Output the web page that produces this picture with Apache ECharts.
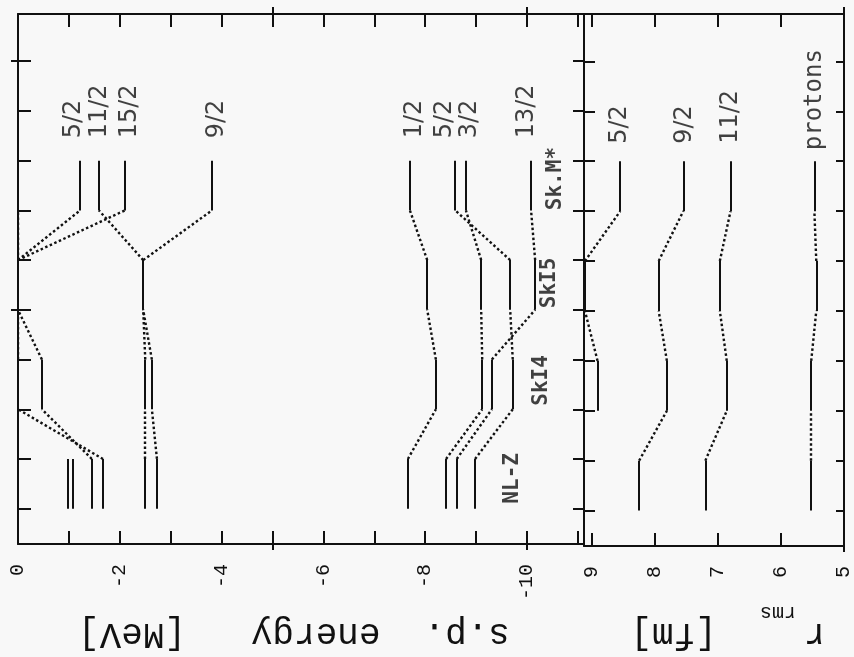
<!DOCTYPE html>
<html>
<head>
<meta charset="utf-8">
<script src="https://cdn.jsdelivr.net/npm/echarts@6/dist/echarts.min.js"></script>
<style>
  html, body { margin: 0; padding: 0; background: #f8f8f8; }
  #chart { width: 854px; height: 657px; }
</style>
</head>
<body>
<div id="chart"></div>
<script>
// model order along the (rotated) horizontal axis: NL-Z, SkI4, SkI5, Sk.M*
const models = ['NL-Z', 'SkI4', 'SkI5', 'Sk.M*'];

// neutron s.p. energies [MeV], one value per model (null = not drawn)
const e5_2a = [-1.45, -0.47, 0, -1.22];
const e11_2 = [-2.50, -2.50, -2.46, -1.59];
const e15_2 = [-1.67, 0, 0, -2.10];
const e9_2 = [-2.73, -2.63, -2.46, -3.81];
const eExtraA = [-0.98, null, 0, 0];
const eExtraB = [-1.08, null, null, null];
const e1_2 = [-7.66, -8.21, -8.04, -7.70];
const e5_2b = [-8.98, -9.72, -9.67, -8.59];
const e3_2 = [-8.41, -9.12, -9.10, -8.80];
const e13_2 = [-8.62, -9.31, -10.16, -10.08];

// rms radii [fm]
const r5_2 = [null, 8.91, 9.11, 8.55];
const r9_2 = [8.25, 7.81, 7.94, 7.55];
const r11_2 = [7.20, 6.86, 6.97, 6.80];
const rProtons = [5.52, 5.52, 5.44, 5.47];

// ticks
const energyTicks = [0, -1, -2, -3, -4, -5, -6, -7, -8, -9, -10, -11];
const energyTickLabels = [0, -2, -4, -6, -8, -10];
const radiusTicks = [9, 8, 7, 6, 5];
const modelTicks = [0, 1, 2, 3, 4, 5, 6, 7, 8, 9];

// where the level names sit (axis units), slightly spread so they don't collide
const energyLevels = [
  { name: '5/2', values: e5_2a, labelAt: -1.10 },
  { name: '11/2', values: e11_2, labelAt: -1.61 },
  { name: '15/2', values: e15_2, labelAt: -2.20 },
  { name: '9/2', values: e9_2, labelAt: -3.91 },
  { name: '', values: eExtraA },
  { name: '', values: eExtraB },
  { name: '1/2', values: e1_2, labelAt: -7.80 },
  { name: '5/2', values: e5_2b, labelAt: -8.39 },
  { name: '3/2', values: e3_2, labelAt: -8.88 },
  { name: '13/2', values: e13_2, labelAt: -10.0 }
];
const radiusLevels = [
  { name: '5/2', values: r5_2, labelAt: 8.56 },
  { name: '9/2', values: r9_2, labelAt: 7.52 },
  { name: '11/2', values: r11_2, labelAt: 6.80 },
  { name: 'protons', values: rProtons, labelAt: 5.47 }
];

const ink = '#111';
const dotted = { type: [2.5, 2.5], width: 2.4 };

// solid piece at each model, dotted link to the next model
function buildSegments(levels) {
  const out = [];
  levels.forEach(level => {
    level.values.forEach((val, i) => {
      if (val === null) return;
      out.push({ coords: [[val, 2 * i], [val, 2 * i + 1]] });
      const next = level.values[i + 1];
      if (next !== undefined && next !== null) {
        out.push({ coords: [[val, 2 * i + 1], [next, 2 * i + 2]], lineStyle: dotted });
      }
    });
  });
  return out;
}

function levelLabels(levels, v) {
  return levels.filter(l => l.name).map(l => ({ name: l.name, value: [l.labelAt, v] }));
}

const modelLabelE = [-9.71, -10.28, -10.45, -10.57];
const modelLabelV = [0.61, 2.58, 4.54, 6.64];

const mono = 'Liberation Mono';
const tickStyle = { color: ink, width: 2 };

function xTickAxis(grid, pos, min, max, inverse, ticks, inside, len, showLine) {
  return {
    gridIndex: grid, type: 'value', position: pos, min: min, max: max, inverse: inverse,
    axisLine: { show: showLine, onZero: false, lineStyle: { color: ink, width: 2 } },
    axisTick: { show: true, inside: inside, length: len, customValues: ticks, lineStyle: tickStyle },
    axisLabel: { show: false },
    splitLine: { show: false }
  };
}
function yTickAxis(grid, pos, ticks, inside, len, showLine) {
  return {
    gridIndex: grid, type: 'value', position: pos, min: -0.71, max: 9.95,
    axisLine: { show: showLine, onZero: false, lineStyle: { color: ink, width: 2 } },
    axisTick: { show: true, inside: inside, length: len, customValues: ticks, lineStyle: tickStyle },
    axisLabel: { show: false },
    splitLine: { show: false }
  };
}

const eMin = -11.12, eMax = 0, rMin = 5, rMax = 9.125;

const energyMain = xTickAxis(0, 'bottom', eMin, eMax, true, energyTicks, true, 13, true);
energyMain.axisLabel = {
  show: true, customValues: energyTickLabels, rotate: 90, margin: 20,
  fontFamily: mono, fontSize: 20, color: ink
};
energyMain.name = 's.p.  energy   [MeV]';
energyMain.nameLocation = 'middle';
energyMain.nameRotate = 180;
energyMain.nameGap = 72;
energyMain.nameTextStyle = { fontFamily: mono, fontSize: 36, color: ink, padding: [0, 0, 0, 14] };

const radiusMain = xTickAxis(1, 'bottom', rMin, rMax, true, radiusTicks, true, 13, true);
radiusMain.axisLabel = {
  show: true, customValues: radiusTicks, rotate: 90, margin: 20,
  fontFamily: mono, fontSize: 20, color: ink
};
radiusMain.name = '{r|r}{s|rms}{g|  }{n|[fm]}';
radiusMain.nameLocation = 'middle';
radiusMain.nameRotate = 180;
radiusMain.nameGap = 56;
radiusMain.nameTextStyle = {
  color: ink,
  padding: [0, 28, 0, 0],
  rich: {
    r: { fontFamily: mono, fontSize: 36, verticalAlign: 'top', color: ink },
    s: { fontFamily: mono, fontSize: 20, lineHeight: 50, verticalAlign: 'bottom', padding: [0, 0, 0, 8], color: ink },
    g: { fontFamily: mono, fontSize: 36, verticalAlign: 'top' },
    n: { fontFamily: mono, fontSize: 36, verticalAlign: 'top', color: ink }
  }
};

const levelLabel = {
  show: true, formatter: '{b}', position: 'inside', rotate: 90, align: 'left',
  verticalAlign: 'middle', fontFamily: 'DejaVu Sans', fontSize: 24, color: ink
};

const chart = echarts.init(document.getElementById('chart'));
chart.setOption({
  backgroundColor: '#f8f8f8',
  animation: false,
  grid: [
    { left: 18, top: 14, width: 566, height: 538 },
    { left: 584, top: 14, width: 264, height: 538 }
  ],
  xAxis: [
    energyMain,
    xTickAxis(0, 'bottom', eMin, eMax, true, [-5, -10], false, 6, false),
    xTickAxis(0, 'top', eMin, eMax, true, energyTicks, true, 13, true),
    xTickAxis(0, 'top', eMin, eMax, true, [-5, -10], false, 7, false),
    radiusMain,
    xTickAxis(1, 'bottom', rMin, rMax, true, [5], false, 6, false),
    xTickAxis(1, 'top', rMin, rMax, true, radiusTicks, true, 13, true),
    xTickAxis(1, 'top', rMin, rMax, true, [5], false, 7, false)
  ],
  yAxis: [
    yTickAxis(0, 'left', modelTicks, true, 13, true),
    yTickAxis(0, 'left', [4, 9], false, 7, false),
    yTickAxis(0, 'right', modelTicks, true, 11, true),
    yTickAxis(1, 'left', modelTicks, true, 11, true),
    yTickAxis(1, 'right', modelTicks, true, 8, true)
  ],
  series: [
    {
      type: 'lines', coordinateSystem: 'cartesian2d', xAxisIndex: 0, yAxisIndex: 0,
      silent: true, lineStyle: { color: ink, width: 2, opacity: 1 },
      data: buildSegments(energyLevels)
    },
    {
      type: 'lines', coordinateSystem: 'cartesian2d', xAxisIndex: 4, yAxisIndex: 3,
      silent: true, lineStyle: { color: ink, width: 2, opacity: 1 },
      data: buildSegments(radiusLevels)
    },
    {
      type: 'scatter', xAxisIndex: 0, yAxisIndex: 0, symbolSize: 1, silent: true,
      itemStyle: { color: 'transparent' },
      data: levelLabels(energyLevels, 7.45),
      label: levelLabel
    },
    {
      type: 'scatter', xAxisIndex: 4, yAxisIndex: 3, symbolSize: 1, silent: true,
      itemStyle: { color: 'transparent' },
      data: levelLabels(radiusLevels.slice(0, 3), 7.35),
      label: levelLabel
    },
    {
      type: 'scatter', xAxisIndex: 4, yAxisIndex: 3, symbolSize: 1, silent: true,
      itemStyle: { color: 'transparent' },
      data: levelLabels(radiusLevels.slice(3), 7.22),
      label: Object.assign({}, levelLabel, { fontFamily: 'DejaVu Sans Mono', fontSize: 24 })
    },
    {
      type: 'scatter', xAxisIndex: 0, yAxisIndex: 0, symbolSize: 1, silent: true,
      itemStyle: { color: 'transparent' },
      data: models.map((m, i) => ({ name: m, value: [modelLabelE[i], modelLabelV[i]] })),
      label: {
        show: true, formatter: '{b}', position: 'inside', rotate: 90, align: 'center',
        verticalAlign: 'middle', fontFamily: 'DejaVu Sans Mono', fontWeight: 'bold',
        fontSize: 21, color: ink
      }
    }
  ]
});
</script>
</body>
</html>
